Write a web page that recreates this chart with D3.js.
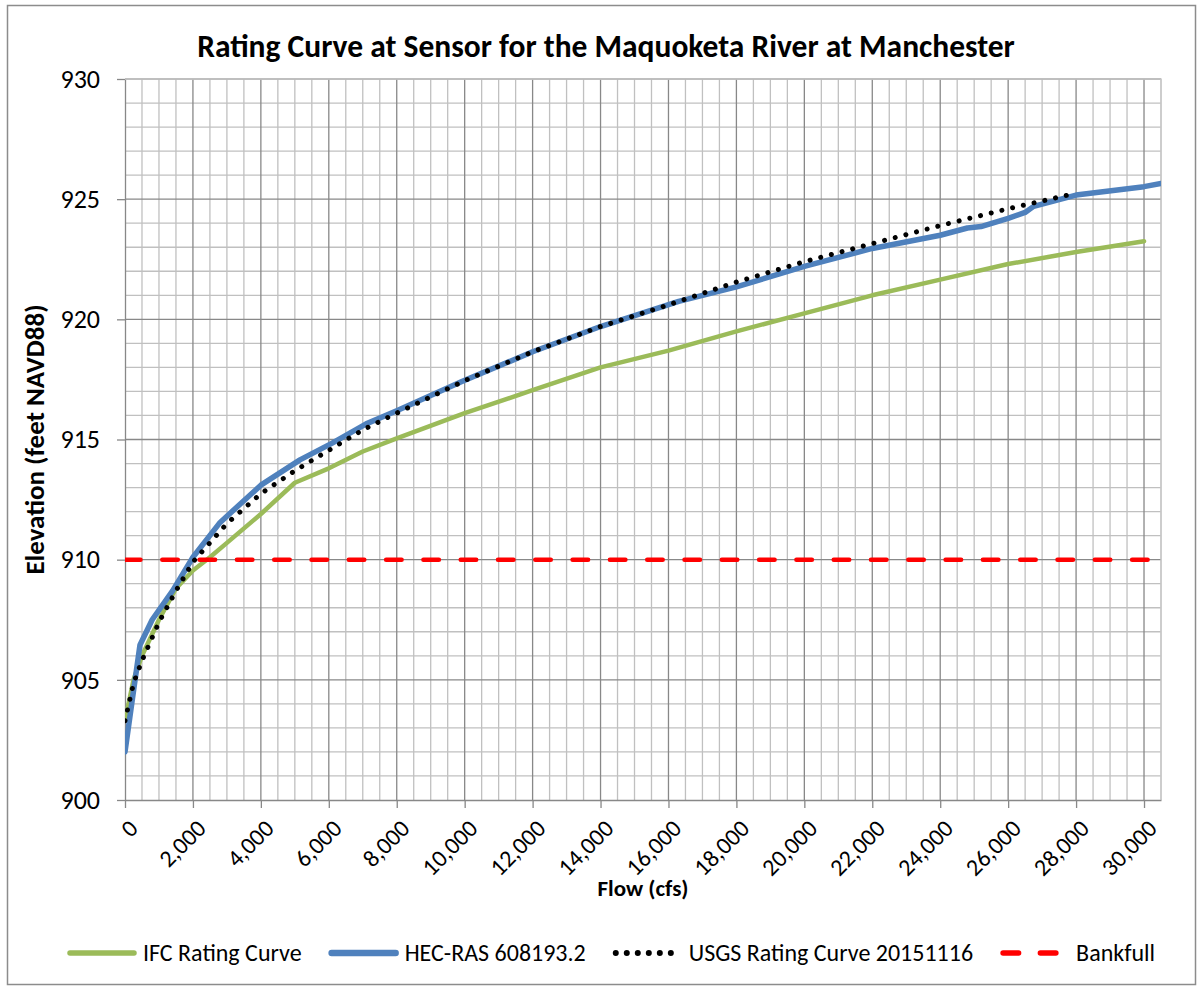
<!DOCTYPE html>
<html lang="en">
<head>
    <meta charset="UTF-8">
    <title>Rating Curve</title>
    <script src="https://d3js.org/d3.v7.min.js"></script>
    <style>
        body { margin: 0; background: #fff; font-family: 'Carlito', 'Lato', sans-serif; }
        svg { display: block; }
    </style>
</head>
<body>
    <script>
        // IFC rating curve (green)
        const ifcFlow = [0, 250, 500, 1000, 1500, 2000, 2500, 3000, 4000, 5000, 6000, 7000, 8000, 10000, 12000, 14000, 16000, 18000, 20000, 22000, 24000, 26000, 28000, 30000];
        const ifcElev = [903.3, 905.0, 906.0, 907.5, 908.8, 909.55, 910.1, 910.7, 911.9, 913.2, 913.8, 914.5, 915.05, 916.1, 917.05, 918.0, 918.7, 919.5, 920.25, 921.0, 921.65, 922.3, 922.8, 923.25];

        // HEC-RAS 608193.2 (blue)
        const hecFlow = [0, 441, 800, 1400, 2000, 2800, 4000, 5150, 6100, 7100, 8000, 9900, 12000, 14000, 16300, 18000, 20000, 22000, 24000, 24800, 25200, 26000, 26500, 26750, 28000, 30000, 30500];
        const hecElev = [902.0, 906.45, 907.5, 908.7, 910.1, 911.55, 913.1, 914.15, 914.85, 915.65, 916.2, 917.4, 918.65, 919.7, 920.75, 921.35, 922.2, 922.95, 923.5, 923.8, 923.86, 924.2, 924.45, 924.7, 925.17, 925.52, 925.65];

        // USGS rating curve 20151116 (dotted)
        const usgsFlow = [0, 250, 500, 1000, 1500, 2000, 3000, 4000, 5000, 6000, 7000, 8000, 10000, 12000, 14000, 16000, 18000, 20000, 22000, 24000, 26000, 28000];
        const usgsElev = [903.3, 904.85, 905.8, 907.4, 908.7, 909.9, 911.5, 912.75, 913.7, 914.55, 915.4, 916.1, 917.45, 918.65, 919.7, 920.6, 921.55, 922.4, 923.15, 923.9, 924.6, 925.25];

        // Bankfull
        const bankFlow = [0, 30500];
        const bankElev = [910, 910];

        const xTicks = d3.range(0, 30001, 2000);
        const yTicks = [900, 905, 910, 915, 920, 925, 930];

        const W = 1202, H = 990;
        const margin = { left: 125, right: 41, top: 79, bottom: 190 };
        const pw = W - margin.left - margin.right;
        const ph = H - margin.top - margin.bottom;
        const font = "'Carlito', 'Lato', sans-serif";

        const x = d3.scaleLinear().domain([0, 30500]).range([0, pw]);
        const y = d3.scaleLinear().domain([900, 930]).range([ph, 0]);

        const svg = d3.select("body").append("svg")
            .attr("width", W).attr("height", H);

        // outer chart border
        svg.append("rect")
            .attr("x", 7.5).attr("y", 5.5)
            .attr("width", 1188).attr("height", 979)
            .attr("fill", "#fff").attr("stroke", "#8c8c8c").attr("stroke-width", 1.5);

        svg.append("text")
            .attr("x", 606).attr("y", 57)
            .attr("text-anchor", "middle")
            .style("font", `bold 31.5px ${font}`)
            .attr("fill", "#000")
            .text("Rating Curve at Sensor for the Maquoketa River at Manchester");

        const g = svg.append("g").attr("transform", `translate(${margin.left},${margin.top})`);

        svg.append("defs").append("clipPath").attr("id", "clip")
            .append("rect").attr("width", pw).attr("height", ph);

        // grid lines: minor every 500 cfs / 1 ft, major every 2000 cfs / 5 ft
        const minorX = d3.range(500, 30501, 500).filter(v => v % 2000 !== 0);
        const minorY = d3.range(901, 930, 1).filter(v => v % 5 !== 0);
        g.append("g").selectAll("line").data(minorX).join("line")
            .attr("x1", d => x(d)).attr("x2", d => x(d)).attr("y1", 0).attr("y2", ph)
            .attr("stroke", "#c0c0c0").attr("stroke-width", 1.3);
        g.append("g").selectAll("line").data(minorY).join("line")
            .attr("y1", d => y(d)).attr("y2", d => y(d)).attr("x1", 0).attr("x2", pw)
            .attr("stroke", "#c0c0c0").attr("stroke-width", 1.3);
        g.append("g").selectAll("line").data(xTicks.slice(1)).join("line")
            .attr("x1", d => x(d)).attr("x2", d => x(d)).attr("y1", 0).attr("y2", ph)
            .attr("stroke", "#888").attr("stroke-width", 1.3);
        g.append("g").selectAll("line").data(yTicks.slice(1)).join("line")
            .attr("y1", d => y(d)).attr("y2", d => y(d)).attr("x1", 0).attr("x2", pw)
            .attr("stroke", "#888").attr("stroke-width", 1.3);

        // axes
        const xAxis = g.append("g").attr("transform", `translate(0,${ph})`)
            .call(d3.axisBottom(x).tickValues(xTicks).tickSize(8).tickSizeOuter(0).tickFormat(d3.format(",")));
        xAxis.select(".domain").attr("stroke", "#888").attr("stroke-width", 1.3);
        xAxis.selectAll(".tick line").attr("stroke", "#888").attr("stroke-width", 1.3);
        xAxis.selectAll(".tick text")
            .style("font", `24px ${font}`).attr("fill", "#000")
            .attr("text-anchor", "end")
            .attr("transform", "translate(8,24) rotate(-45)")
            .attr("x", 0).attr("y", 0).attr("dy", "0.35em");

        const yAxis = g.append("g")
            .call(d3.axisLeft(y).tickValues(yTicks).tickSize(8).tickSizeOuter(0));
        yAxis.select(".domain").attr("stroke", "#888").attr("stroke-width", 1.3);
        yAxis.selectAll(".tick line").attr("stroke", "#888").attr("stroke-width", 1.3);
        yAxis.selectAll(".tick text")
            .style("font", `26px ${font}`).attr("fill", "#000").attr("x", -25);

        // plot area top/right border
        g.append("path")
            .attr("d", `M0,0H${pw}V${ph}`)
            .attr("fill", "none").attr("stroke", "#c8c8c8").attr("stroke-width", 1.3);

        const series = [
            { name: "IFC Rating Curve", flow: ifcFlow, elev: ifcElev, color: "#9bbb59", width: 4.5, dash: null, cap: "round" },
            { name: "HEC-RAS 608193.2", flow: hecFlow, elev: hecElev, color: "#4f81bd", width: 5.5, dash: null, cap: "round" },
            { name: "USGS Rating Curve 20151116", flow: usgsFlow, elev: usgsElev, color: "#000", width: 5, dash: "0.01 11", cap: "round" },
            { name: "Bankfull", flow: bankFlow, elev: bankElev, color: "#ff0000", width: 4.5, dash: "15.5 21.8", cap: "round" }
        ];

        const line = d3.line().x(d => x(d[0])).y(d => y(d[1]));
        const plot = g.append("g").attr("clip-path", "url(#clip)");
        series.forEach(s => {
            plot.append("path")
                .datum(d3.zip(s.flow, s.elev))
                .attr("d", line)
                .attr("fill", "none")
                .attr("stroke", s.color)
                .attr("stroke-width", s.width)
                .attr("stroke-linecap", s.cap)
                .attr("stroke-linejoin", "round")
                .attr("stroke-dasharray", s.dash);
        });

        // axis titles
        svg.append("text")
            .attr("transform", `translate(44,${margin.top + ph / 2}) rotate(-90)`)
            .attr("text-anchor", "middle")
            .style("font", `bold 27px ${font}`)
            .text("Elevation (feet NAVD88)");
        svg.append("text")
            .attr("x", margin.left + pw / 2).attr("y", 896)
            .attr("text-anchor", "middle")
            .style("font", `bold 23px ${font}`)
            .text("Flow (cfs)");

        // legend
        const leg = svg.append("g").attr("transform", "translate(67,953)");
        let lx = 0;
        series.forEach(s => {
            leg.append("line")
                .attr("x1", lx + 3).attr("x2", lx + 67).attr("y1", 0).attr("y2", 0)
                .attr("stroke", s.color).attr("stroke-width", s.width + 1)
                .attr("stroke-linecap", s.cap)
                .attr("stroke-dasharray", s.dash);
            const t = leg.append("text")
                .attr("x", lx + 76).attr("y", 0).attr("dy", "0.35em")
                .style("font", `24px ${font}`)
                .text(s.name);
            lx += 76 + t.node().getComputedTextLength() + 27;
        });
    </script>
</body>
</html>
